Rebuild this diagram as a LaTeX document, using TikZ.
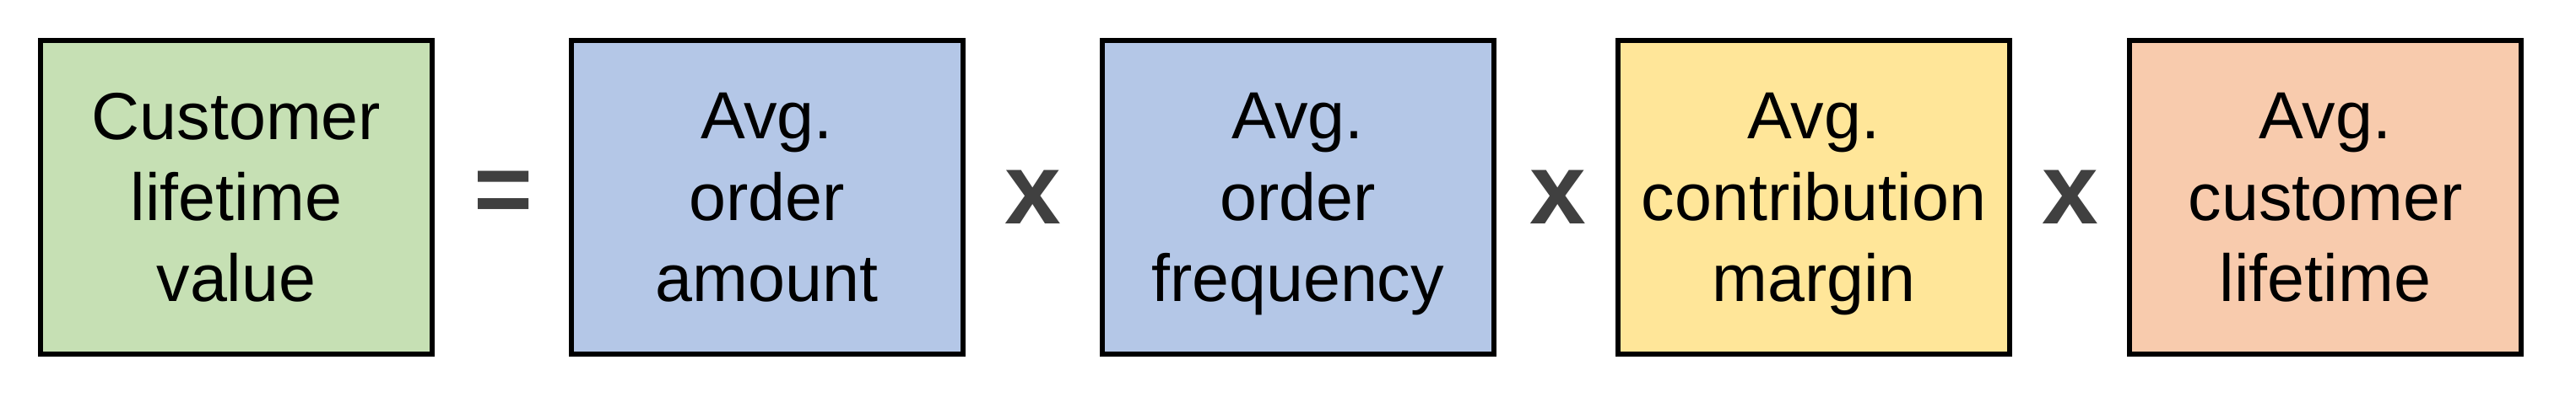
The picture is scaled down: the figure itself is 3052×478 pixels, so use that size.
\documentclass[tikz,border=0pt]{standalone}
\usepackage{fontspec}
\setmainfont{Liberation Sans}

\definecolor{clvgreen}{HTML}{C6E0B4}
\definecolor{avgblue}{HTML}{B4C7E7}
\definecolor{avgyellow}{HTML}{FFE699}
\definecolor{avgorange}{HTML}{F8CBAD}
\definecolor{opgray}{HTML}{404040}

\begin{document}
\begin{tikzpicture}[x=0.25pt,y=-0.25pt,
    factor/.style={draw=black,line width=1.5pt,minimum width=116pt,minimum height=93pt,
        inner sep=0pt,align=center,text depth=0pt,font=\fontsize{19.75}{24.1}\selectfont},
    operator/.style={text=opgray,inner sep=0pt,font=\fontsize{30}{30}\selectfont\bfseries}]
    \useasboundingbox (0,0) rectangle (3052,478);
    \foreach \name/\position/\shade/\words in {clv/280/clvgreen/{Customer\\lifetime\\value},
        amount/908.5/avgblue/{Avg.\\order\\amount}, frequency/1537.5/avgblue/{Avg.\\order\\frequency},
        margin/2149/avgyellow/{Avg.\\contribution\\margin}, lifetime/2755/avgorange/{Avg.\\customer\\lifetime}} {
        \node[factor,fill=\shade] (\name) at (\position,234) {\words};
    }
    \foreach \name/\position/\sign in {equals/597/=, times1/1224/x, times2/1846/x, times3/2453/x} {
        \node[operator] (\name) at (\position,234) {\sign};
    }
\end{tikzpicture}
\end{document}
